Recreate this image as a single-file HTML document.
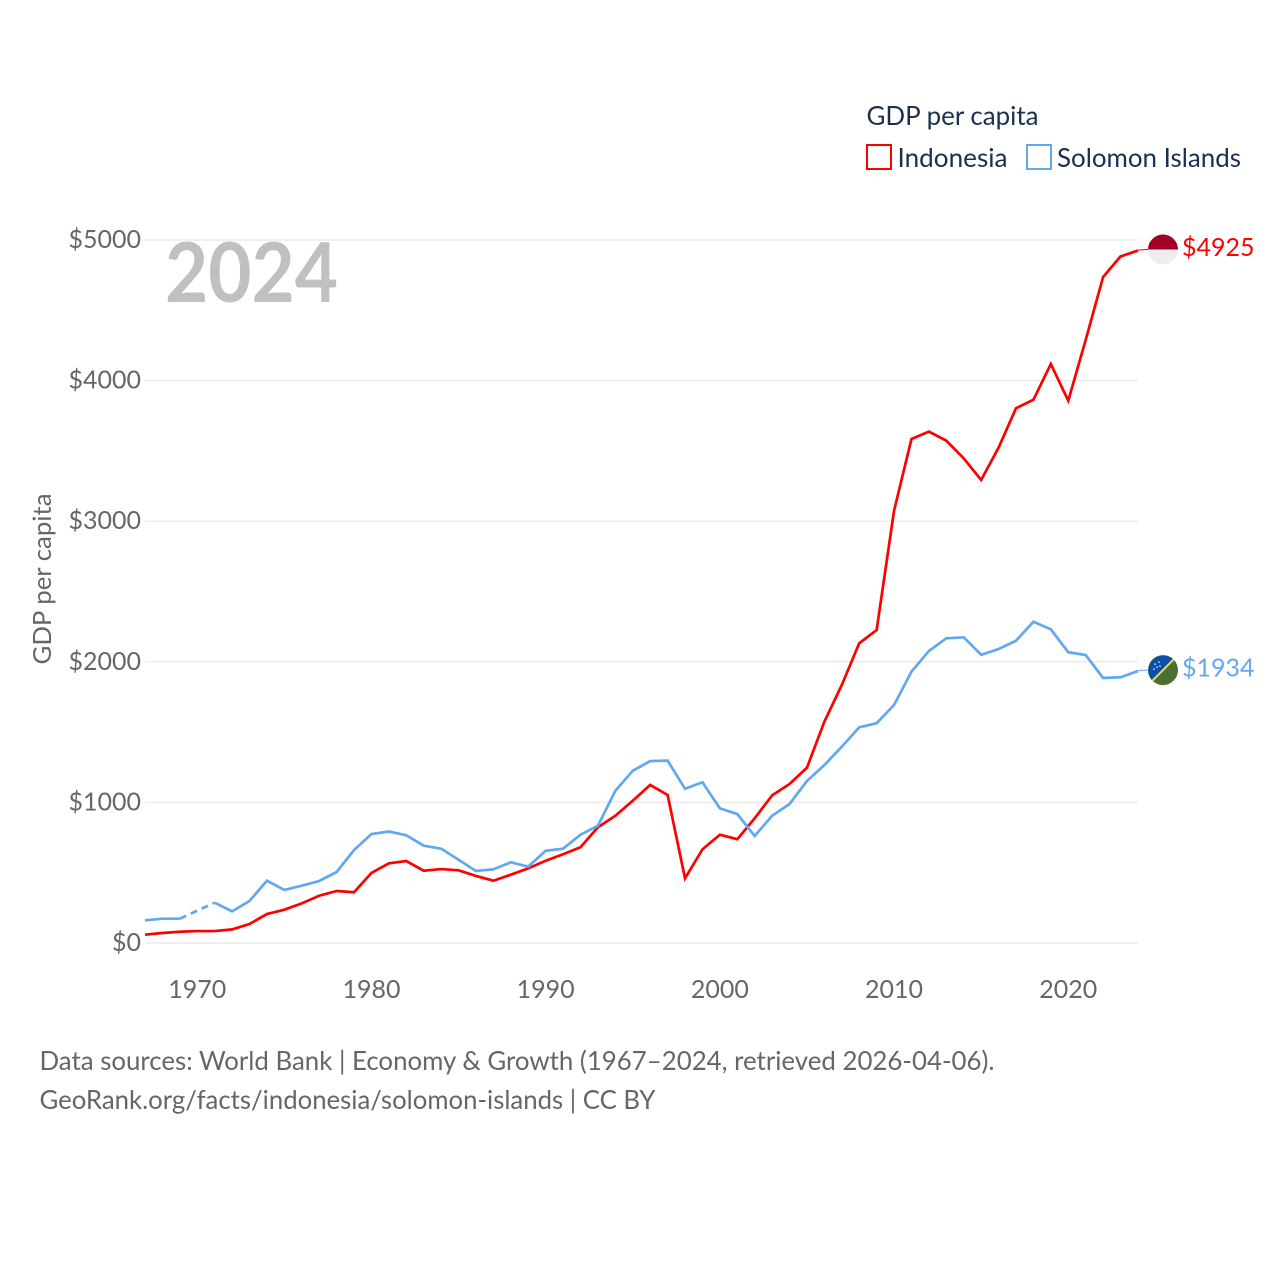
<!DOCTYPE html>
<html lang="en">
<head>
<meta charset="utf-8">
<title>GDP per capita: Indonesia and Solomon Islands</title>
<style>
html,body{margin:0;padding:0;background:#fff;}
svg{display:block;}
text{font-family:"Lato","Carlito","Liberation Sans",sans-serif;}
</style>
</head>
<body>
<svg id="chart" xmlns="http://www.w3.org/2000/svg" width="1280" height="1280" viewBox="0 0 1280 1280">
  <rect x="0" y="0" width="1280" height="1280" fill="#ffffff"/>

  <g id="grid"></g>
  <g id="yticks"></g>
  <g id="xticks"></g>

  <text transform="translate(51,664.5) rotate(-90)" font-size="25" fill="#666666" textLength="171" lengthAdjust="spacingAndGlyphs">GDP per capita</text>
  <text x="165" y="302" font-size="82" font-weight="700" fill="#c0c0c0" textLength="173" lengthAdjust="spacingAndGlyphs">2024</text>

  <g id="series"></g>
  <g id="ends"></g>

  <g>
    <text x="866.5" y="125" font-size="26" fill="#1b2f4e" textLength="172" lengthAdjust="spacingAndGlyphs">GDP per capita</text>
    <rect x="867" y="145" width="24" height="24" fill="#ffffff" stroke="#ff0000" stroke-width="2"/>
    <text x="897.5" y="167" font-size="26" fill="#1b2f4e" textLength="110" lengthAdjust="spacingAndGlyphs">Indonesia</text>
    <rect x="1027" y="145" width="24" height="24" fill="#ffffff" stroke="#61a8ef" stroke-width="2"/>
    <text x="1057" y="167" font-size="26" fill="#1b2f4e" textLength="184" lengthAdjust="spacingAndGlyphs">Solomon Islands</text>
  </g>

  <text x="39.5" y="1070" font-size="26" fill="#666666" textLength="955" lengthAdjust="spacingAndGlyphs">Data sources: World Bank | Economy &amp; Growth (1967–2024, retrieved 2026-04-06).</text>
  <text x="39.5" y="1109" font-size="26" fill="#666666" textLength="616" lengthAdjust="spacingAndGlyphs">GeoRank.org/facts/indonesia/solomon-islands | CC BY</text>
</svg>
<script>
const firstYear = 1967;
const yTickValues = [0, 1000, 2000, 3000, 4000, 5000];
const xTickValues = [1970, 1980, 1990, 2000, 2010, 2020];
const indonesiaValues = [59,71,80,85,85,97,135,206,237,282,336,370,361,498,567,583,514,526,517,477,443,486,531,585,631,681,823,905,1012,1124,1053,460,666,770,738,887,1050,1131,1247,1574,1835,2132,2226,3075,3585,3637,3573,3447,3293,3523,3803,3864,4118,3857,4289,4737,4883,4925];
const solomonValues = [161,173,173,null,287,225,299,443,377,408,441,505,661,775,793,766,692,671,592,512,524,574,543,656,671,770,834,1083,1225,1294,1297,1097,1143,958,917,761,905,989,1152,1266,1396,1534,1563,1693,1930,2077,2167,2174,2050,2091,2150,2285,2231,2068,2048,1885,1890,1934];

const NS = 'http://www.w3.org/2000/svg';
const RED = '#ff0000';
const BLUE = '#61a8ef';
const xScale = function (year) { return 145 + (year - firstYear) * 17.42; };
const yScale = function (value) { return 943 - value * 0.1406; };

function make(tag, attrs, parent) {
  const el = document.createElementNS(NS, tag);
  Object.keys(attrs).forEach(function (k) { el.setAttribute(k, attrs[k]); });
  parent.appendChild(el);
  return el;
}

const gridG = document.getElementById('grid');
const yG = document.getElementById('yticks');
yTickValues.forEach(function (v) {
  const line = make('line', {x1: 145, x2: 1138, y1: yScale(v), y2: yScale(v), stroke: '#ececec', 'stroke-width': 1.5}, gridG);
  
  
  const t = make('text', {x: 141, y: yScale(v) + 8, 'text-anchor': 'end', 'font-size': 25, fill: '#666666'}, yG);
  
  
  t.textContent = '$' + v;
});

const xG = document.getElementById('xticks');
xTickValues.forEach(function (yr) {
  const t = make('text', {x: xScale(yr), y: 998, 'text-anchor': 'middle', 'font-size': 25, fill: '#666666'}, xG);
  
  
  t.textContent = yr;
});

function drawSeries(values, color, name) {
  const g = document.getElementById('series');
  let run = [];
  let lastPoint = null;
  function flush() {
    if (run.length > 1) {
      const p = make('polyline', {points: run.join(' '), fill: 'none', stroke: color, 'stroke-width': 2.7, 'stroke-linejoin': 'miter'}, g);
      
      
    }
    run = [];
  }
  values.forEach(function (v, i) {
    if (v === null) { flush(); return; }
    const px = xScale(firstYear + i);
    const py = yScale(v);
    if (run.length === 0 && lastPoint && i - lastPoint.i > 1) {
      const d = make('line', {x1: lastPoint.x, y1: lastPoint.y, x2: px, y2: py, stroke: color, 'stroke-width': 2.7, 'stroke-dasharray': '7 5'}, g);
      
      
    }
    run.push(px + ',' + py);
    lastPoint = {i: i, x: px, y: py};
  });
  flush();
  return lastPoint;
}

function drawEnd(values, color, name, point) {
  const g = document.getElementById('ends');
  const cy = point.y - 1;
  const c = make('line', {x1: point.x, y1: point.y - 0.5, x2: 1148, y2: cy, stroke: color, 'stroke-width': 1}, g);
  
  
  const t = make('text', {x: 1182, y: cy + 6.5, 'font-size': 25, fill: color}, g);
  
  
  t.textContent = '$' + values[values.length - 1];
  return cy;
}

const endA = drawSeries(indonesiaValues, RED, 'indonesia');
const endB = drawSeries(solomonValues, BLUE, 'solomon-islands');
const cyA = drawEnd(indonesiaValues, RED, 'indonesia', endA);
const cyB = drawEnd(solomonValues, BLUE, 'solomon-islands', endB);

const ends = document.getElementById('ends');
const fA = make('g', {transform: 'translate(1163,' + cyA + ')'}, ends);


make('circle', {cx: 0, cy: 0, r: 15, fill: '#eeeeee'}, fA);
make('path', {d: 'M-15,0 A15,15 0 0 1 15,0 Z', fill: '#a20024'}, fA);

const fB = make('g', {transform: 'translate(1163,' + cyB + ')'}, ends);


make('circle', {cx: 0, cy: 0, r: 15, fill: '#4b7130'}, fB);
make('path', {d: 'M-10.6,10.6 A15,15 0 0 1 10.6,-10.6 Z', fill: '#0b50a8'}, fB);
make('line', {x1: -10.6, y1: 10.6, x2: 10.6, y2: -10.6, stroke: '#f2dc4a', 'stroke-width': 2}, fB);
[[-8,-6],[-4,-8],[-6,-3],[-9,-1],[-3,-4]].forEach(function (s) {
  make('circle', {cx: s[0], cy: s[1], r: 0.8, fill: '#dfe8f5'}, fB);
});
</script>
</body>
</html>
